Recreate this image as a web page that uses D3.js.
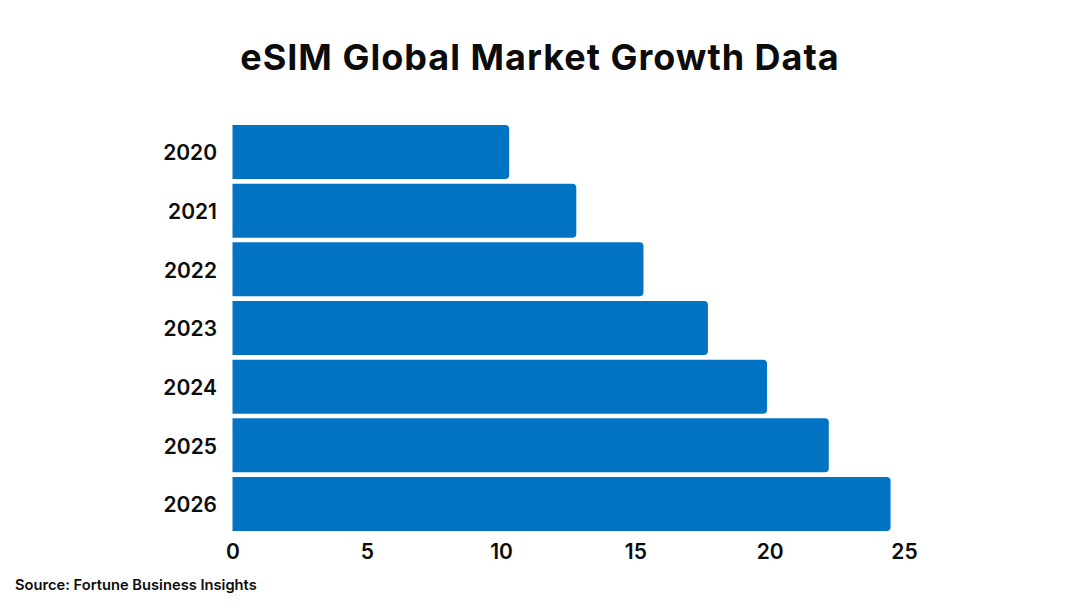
<!DOCTYPE html>
<html>
<head>
<meta charset="utf-8">
<script src="https://cdn.jsdelivr.net/npm/d3@7"></script>
<style>
html, body { margin: 0; background: #fff; }
text { font-family: Inter, "Open Sans", sans-serif; fill: #0c0c0c; }
.domain, .tick line { display: none; }
</style>
</head>
<body>
<div id="chart"></div>
<script>
var years = ['2020', '2021', '2022', '2023', '2024', '2025', '2026'];
var marketSize = [10.3, 12.8, 15.3, 17.7, 19.9, 22.2, 24.5];
var xTicks = [0, 5, 10, 15, 20, 25];

var width = 1080, height = 608;
var svg = d3.select('#chart').append('svg')
    .attr('width', width)
    .attr('height', height)
    .style('display', 'block');

var x = d3.scaleLinear().domain([0, 25]).range([232.5, 904]);
var y = d3.scaleBand().domain(years).range([125, 531]).paddingInner(0.08);

// rounded on the right end only, the left edge sits flat on zero
var barPath = function(v, yr) {
    var x0 = x(0), x1 = x(v), y0 = y(yr), y1 = y0 + y.bandwidth(), r = 4;
    return 'M' + x0 + ',' + y0 + 'H' + (x1 - r) + 'Q' + x1 + ',' + y0 + ' ' + x1 + ',' + (y0 + r) +
        'V' + (y1 - r) + 'Q' + x1 + ',' + y1 + ' ' + (x1 - r) + ',' + y1 + 'H' + x0 + 'Z';
};

svg.selectAll('.bar')
    .data(years)
    .enter().append('path')
    .attr('class', 'bar')
    .attr('d', function(d, i) { return barPath(marketSize[i], d); })
    .attr('fill', '#0273c3');

var yAxis = svg.append('g')
    .attr('transform', 'translate(232,0)')
    .call(d3.axisLeft(y).tickSize(0).tickPadding(15));
yAxis.selectAll('text')
    .style('font-size', '21px')
    .style('font-weight', 600)
    .attr('dy', '0.4em');

var xAxis = svg.append('g')
    .attr('transform', 'translate(0,531)')
    .call(d3.axisBottom(x).tickValues(xTicks).tickSize(0).tickPadding(13));
xAxis.selectAll('text')
    .style('font-size', '21px')
    .style('font-weight', 600);

svg.append('text')
    .attr('x', 540)
    .attr('y', 70)
    .attr('text-anchor', 'middle')
    .style('font-size', '36px')
    .style('font-weight', 700)
    .style('letter-spacing', '1px')
    .text('eSIM Global Market Growth Data');

svg.append('text')
    .attr('x', 15)
    .attr('y', 590)
    .style('font-size', '14.7px')
    .style('font-weight', 600)
    .text('Source: Fortune Business Insights');
</script>
</body>
</html>
